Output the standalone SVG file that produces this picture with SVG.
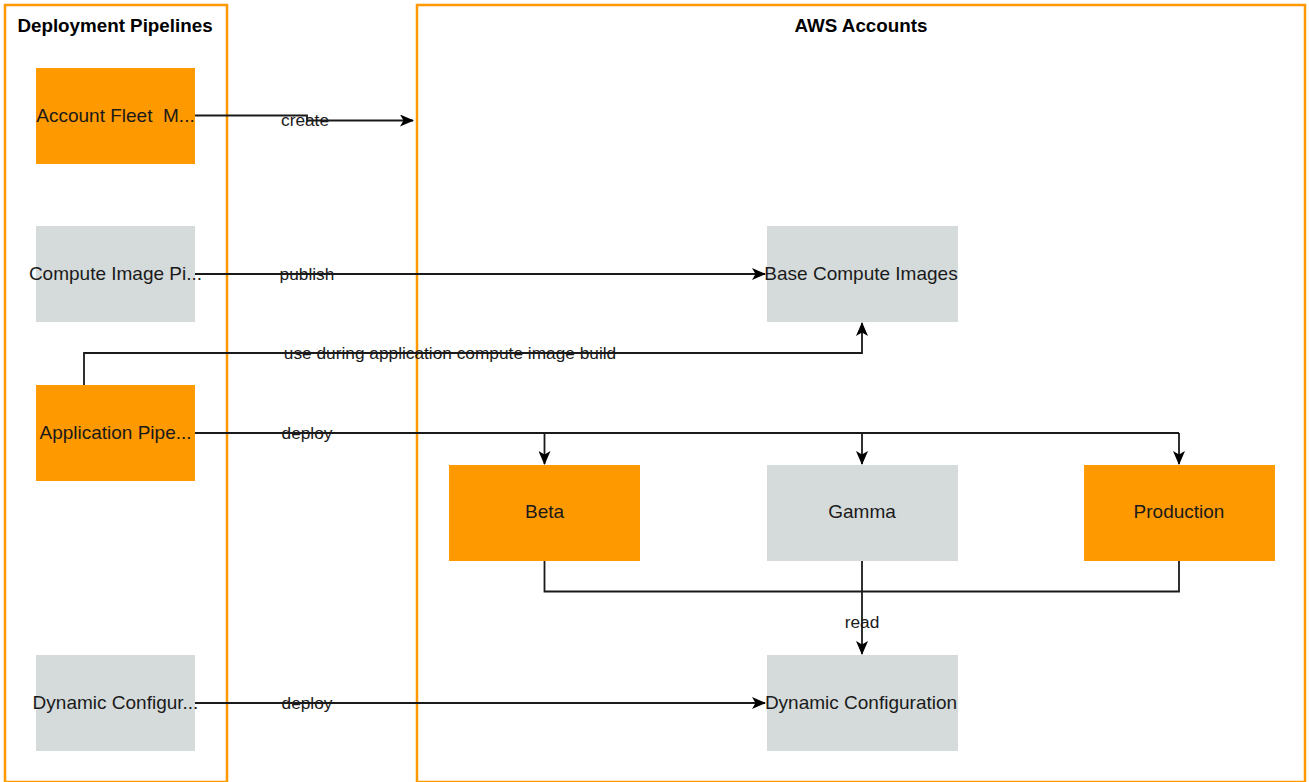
<svg xmlns="http://www.w3.org/2000/svg" width="1309" height="782" viewBox="0 0 1309 782">
  <style>
    .container { fill: #ffffff; stroke: #FF9900; stroke-width: 2.5; }
    .title { font-family: "Liberation Sans", Arial, sans-serif; font-size: 18.8px; font-weight: bold; fill: #000000; text-anchor: middle; }
    .orange { fill: #FF9900; }
    .gray { fill: #D5DBDB; }
    .label { font-family: "Liberation Sans", Arial, sans-serif; font-size: 19px; fill: #1a1a1a; text-anchor: middle; }
    .edge { fill: none; stroke: #1a1a1a; stroke-width: 1.8; }
    .elabel { font-family: "Liberation Sans", Arial, sans-serif; font-size: 17.3px; fill: #1a1a1a; text-anchor: middle; }
  </style>
  <defs>
    <marker id="arrow" markerWidth="14" markerHeight="12" refX="13" refY="6" orient="auto" markerUnits="userSpaceOnUse">
      <path d="M0,0 L14,6 L0,12 L3.5,6 Z" fill="#000000"/>
    </marker>
  </defs>

  <rect width="1309" height="782" fill="#ffffff"/>

  <!-- Containers -->
  <g id="deployment-pipelines">
    <rect class="container" x="5" y="5" width="222" height="777"/>
    <text class="title" x="115" y="32">Deployment Pipelines</text>
  </g>
  <g id="aws-accounts">
    <rect class="container" x="417" y="5" width="888" height="777"/>
    <text class="title" x="861" y="32">AWS Accounts</text>
  </g>

  <!-- Pipeline nodes -->
  <g id="account-fleet">
    <rect class="orange" x="36" y="68" width="159" height="96"/>
    <text class="label" x="115.5" y="122" xml:space="preserve">Account Fleet  M...</text>
  </g>
  <g id="compute-image-pipeline">
    <rect class="gray" x="36" y="226" width="159" height="96"/>
    <text class="label" x="115.5" y="280">Compute Image Pi...</text>
  </g>
  <g id="application-pipeline">
    <rect class="orange" x="36" y="385" width="159" height="96"/>
    <text class="label" x="115.5" y="439">Application Pipe...</text>
  </g>
  <g id="dynamic-config-pipeline">
    <rect class="gray" x="36" y="655" width="159" height="96"/>
    <text class="label" x="115.5" y="709">Dynamic Configur...</text>
  </g>

  <!-- Account nodes -->
  <g id="base-compute-images">
    <rect class="gray" x="767" y="226" width="191" height="96"/>
    <text class="label" x="861" y="280">Base Compute Images</text>
  </g>
  <g id="beta">
    <rect class="orange" x="449" y="465" width="191" height="96"/>
    <text class="label" x="544.5" y="518">Beta</text>
  </g>
  <g id="gamma">
    <rect class="gray" x="767" y="465" width="191" height="96"/>
    <text class="label" x="862" y="518">Gamma</text>
  </g>
  <g id="production">
    <rect class="orange" x="1084" y="465" width="191" height="96"/>
    <text class="label" x="1179" y="518">Production</text>
  </g>
  <g id="dynamic-configuration">
    <rect class="gray" x="767" y="655" width="191" height="96"/>
    <text class="label" x="861" y="709">Dynamic Configuration</text>
  </g>

  <!-- Connectors -->
  <g id="connectors">
    <path class="edge" d="M195,115.5 H307 V120.5 H413" marker-end="url(#arrow)"/>
    <text class="elabel" x="305" y="126">create</text>

    <path class="edge" d="M195,274 H765" marker-end="url(#arrow)"/>
    <text class="elabel" x="307" y="280">publish</text>

    <path class="edge" d="M84,385 V353 H862 V323" marker-end="url(#arrow)"/>
    <text class="elabel" x="450" y="359">use during application compute image build</text>

    <path class="edge" d="M195,433 H1179"/>
    <path class="edge" d="M544.5,433 V464" marker-end="url(#arrow)"/>
    <path class="edge" d="M862,433 V464" marker-end="url(#arrow)"/>
    <path class="edge" d="M1179,433 V464" marker-end="url(#arrow)"/>
    <text class="elabel" x="307" y="439">deploy</text>

    <path class="edge" d="M544.5,561 V591.5 H1179 V561"/>
    <path class="edge" d="M862,561 V654" marker-end="url(#arrow)"/>
    <text class="elabel" x="862" y="628">read</text>

    <path class="edge" d="M195,703 H765" marker-end="url(#arrow)"/>
    <text class="elabel" x="307" y="709">deploy</text>
  </g>
</svg>
